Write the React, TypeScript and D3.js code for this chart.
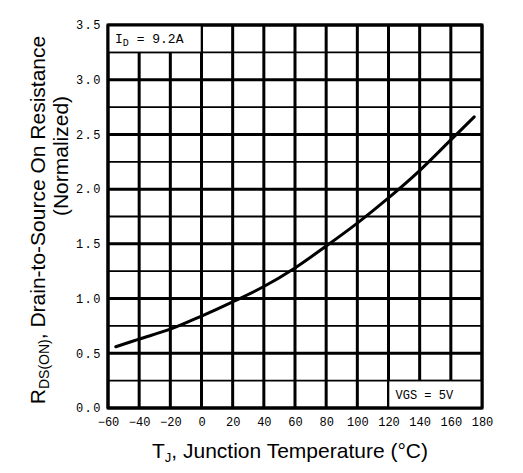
//@ts-nocheck
import React, { useRef, useEffect } from 'react'
import * as d3 from 'd3'

// junction temperature (°C) and normalized on-resistance
const temps = [-55, -40, -20, 0, 20, 40, 60, 80, 100, 120, 140, 160, 175]
const rdsOn = [0.56, 0.63, 0.72, 0.84, 0.97, 1.11, 1.28, 1.48, 1.69, 1.92, 2.17, 2.45, 2.66]

const xTicks = [-60, -40, -20, 0, 20, 40, 60, 80, 100, 120, 140, 160, 180]
const yTicks = [0, 0.5, 1.0, 1.5, 2.0, 2.5, 3.0, 3.5]
const yMinor = [0.25, 0.75, 1.25, 1.75, 2.25, 2.75, 3.25]

const W = 523
const H = 473
const margin = { top: 25, right: 41, bottom: 65, left: 108 }
const mono = '"Liberation Mono", "DejaVu Sans Mono", monospace'
const sans = '"Liberation Sans", Arial, sans-serif'

const App = () => {
  const node = useRef(null)

  useEffect(() => {
    const svg = d3.select(node.current)
    svg.selectAll('*').remove()

    const x = d3.scaleLinear().domain([-60, 180]).range([margin.left, W - margin.right])
    const y = d3.scaleLinear().domain([0, 3.5]).range([H - margin.bottom, margin.top])

    const grid = svg.append('g')
    grid
      .selectAll('line.minor')
      .data(yMinor)
      .join('line')
      .attr('x1', x(-60))
      .attr('x2', x(180))
      .attr('y1', (d) => y(d))
      .attr('y2', (d) => y(d))
      .attr('stroke', '#000')
      .attr('stroke-width', 1.8)
    grid
      .selectAll('line.major')
      .data(yTicks)
      .join('line')
      .attr('x1', x(-60))
      .attr('x2', x(180))
      .attr('y1', (d) => y(d))
      .attr('y2', (d) => y(d))
      .attr('stroke', '#000')
      .attr('stroke-width', 3)
    grid
      .selectAll('line.vert')
      .data(xTicks)
      .join('line')
      .attr('x1', (d) => x(d))
      .attr('x2', (d) => x(d))
      .attr('y1', y(0))
      .attr('y2', y(3.5))
      .attr('stroke', '#000')
      .attr('stroke-width', 3)

    // annotation boxes sit on top of the grid
    svg
      .append('rect')
      .attr('x', x(-60))
      .attr('y', y(3.5))
      .attr('width', x(0) - x(-60))
      .attr('height', y(3.25) - y(3.5))
      .attr('fill', '#fff')
      .attr('stroke', '#000')
      .attr('stroke-width', 1.6)
    svg
      .append('rect')
      .attr('x', x(120))
      .attr('y', y(0.25))
      .attr('width', x(180) - x(120))
      .attr('height', y(0) - y(0.25))
      .attr('fill', '#fff')
      .attr('stroke', '#000')
      .attr('stroke-width', 1.6)

    svg
      .append('rect')
      .attr('x', x(-60))
      .attr('y', y(3.5))
      .attr('width', x(180) - x(-60))
      .attr('height', y(0) - y(3.5))
      .attr('fill', 'none')
      .attr('stroke', '#000')
      .attr('stroke-width', 3)

    const line = d3
      .line()
      .curve(d3.curveCatmullRom)
      .x((d) => x(d[0]))
      .y((d) => y(d[1]))
    svg
      .append('path')
      .attr('d', line(temps.map((t, i) => [t, rdsOn[i]])))
      .attr('fill', 'none')
      .attr('stroke', '#000')
      .attr('stroke-width', 3)
      .attr('stroke-linecap', 'round')

    const id = svg
      .append('text')
      .attr('x', x(-60) + 7)
      .attr('y', y(3.25) - 9)
      .attr('font-family', mono)
      .attr('font-size', 13)
    id.append('tspan').text('I')
    id.append('tspan').attr('font-size', 10).attr('dy', 3).text('D')
    id.append('tspan').attr('dy', -3).text(' = 9.2A')

    svg
      .append('text')
      .attr('x', x(120) + 7)
      .attr('y', y(0) - 9)
      .attr('font-family', mono)
      .attr('font-size', 12)
      .text('VGS = 5V')

    const xAxis = svg
      .append('g')
      .attr('transform', `translate(0,${y(0) + 6})`)
      .call(d3.axisBottom(x).tickValues(xTicks).tickSize(0).tickFormat(d3.format('d')))
    xAxis.select('.domain').remove()
    xAxis.selectAll('text').attr('font-family', mono).attr('font-size', 12).attr('fill', '#000')

    const yAxis = svg
      .append('g')
      .attr('transform', `translate(${x(-60) - 3},0)`)
      .call(d3.axisLeft(y).tickValues(yTicks).tickSize(0).tickFormat(d3.format('.1f')))
    yAxis.select('.domain').remove()
    yAxis
      .selectAll('text')
      .attr('font-family', mono)
      .attr('font-size', 12)
      .attr('letter-spacing', 1.5)
      .attr('fill', '#000')

    const xt = svg
      .append('text')
      .attr('x', (x(-60) + x(180)) / 2 - 5)
      .attr('y', 458)
      .attr('text-anchor', 'middle')
      .attr('font-family', sans)
      .attr('font-size', 21)
    xt.append('tspan').text('T')
    xt.append('tspan').attr('font-size', 13).attr('dy', 4).text('J')
    xt.append('tspan').attr('dy', -4).text(', Junction Temperature (°C)')

    const yt = svg
      .append('g')
      .attr('transform', 'rotate(-90)')
      .attr('font-family', sans)
      .attr('font-size', 21)
      .attr('text-anchor', 'middle')
    const l1 = yt.append('text').attr('x', -220).attr('y', 45)
    l1.append('tspan').text('R')
    l1.append('tspan').attr('font-size', 14).attr('dy', 4).text('DS(ON)')
    l1.append('tspan').attr('dy', -4).text(', Drain-to-Source On Resistance')
    yt.append('text').attr('x', -156).attr('y', 68).text('(Normalized)')
  }, [])

  return <svg ref={node} width={W} height={H} style={{ position: 'absolute', left: 0, top: 0, background: '#fff' }} />
}

export default App
